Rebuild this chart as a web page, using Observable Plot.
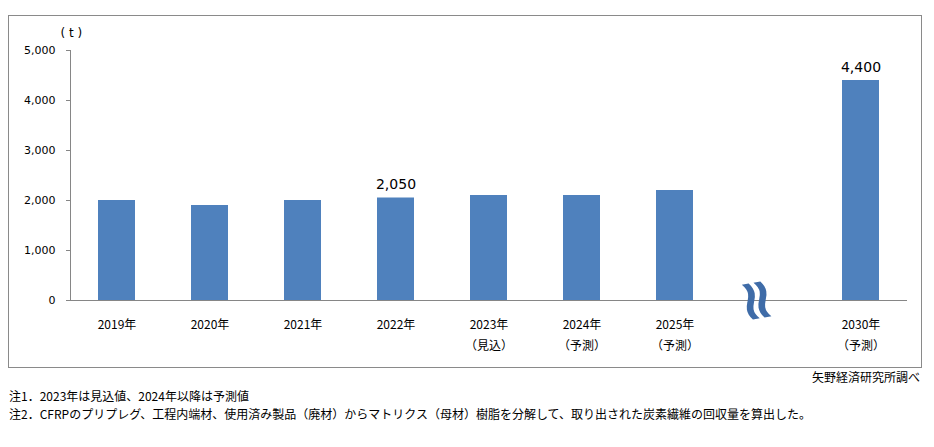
<!DOCTYPE html>
<html><head><meta charset="utf-8">
<script src="https://cdn.jsdelivr.net/npm/d3@7"></script>
<script src="https://cdn.jsdelivr.net/npm/@observablehq/plot@0.6"></script>
<style>
body{margin:0;background:#fff;width:934px;height:447px;position:relative;overflow:hidden;font-family:"Noto Sans CJK JP",sans-serif;}
#frame{position:absolute;left:8px;top:15px;width:912px;height:351px;border:1px solid #8a8a8a;}
#chart{position:absolute;left:0;top:0;}
.note{position:absolute;font-size:12px;color:#000;white-space:nowrap;line-height:1;}
</style></head><body>
<div id="frame"></div>
<div id="chart"></div>
<div class="note" style="right:14px;top:371px;">矢野経済研究所調べ</div>
<div class="note" style="left:9px;top:390px;">注1．2023年は見込値、2024年以降は予測値</div>
<div class="note" style="left:9px;top:408px;">注2．CFRPのプリプレグ、工程内端材、使用済み製品（廃材）からマトリクス（母材）樹脂を分解して、取り出された炭素繊維の回収量を算出した。</div>
<script>
const years = ["2019年","2020年","2021年","2022年","2023年","2024年","2025年","2030年"];
const subLabels = ["","","","","（見込）","（予測）","（予測）","（予測）"];
const values = [2000,1900,2000,2050,2100,2100,2200,4400];
const showLabel = [false,false,false,true,false,false,false,true];
const yTicks = [0,1000,2000,3000,4000,5000];
const gapKey = "gap";
const unitLabel = "( t )";

const domain = [...years.slice(0,7), gapKey, years[7]];
const data = years.map((y,i)=>({year:y, value:values[i], sub:subLabels[i], show:showLabel[i]}));
const subOf = Object.fromEntries(data.map(d=>[d.year,d.sub]));

const chart = Plot.plot({
  width: 934, height: 372,
  marginLeft: 70, marginRight: 27, marginTop: 50, marginBottom: 72,
  style: {fontFamily: "DejaVu Sans, sans-serif", background: "transparent", color: "#000"},
  x: {domain, paddingInner: 0.6, paddingOuter: 0.3, label: null},
  y: {domain: [0,5000], label: null},
  marks: [
    Plot.barY(data, {x:"year", y:"value", fill:"#4F81BD"}),
    Plot.frame({anchor:"left", stroke:"#868686"}),
    Plot.ruleY([0], {stroke:"#868686"}),
    Plot.axisY({ticks: yTicks, tickFormat: d3.format(","), tickSize: 4, tickPadding: 11, stroke:"#868686", fontSize: 11, fill:"#000"}),
    Plot.axisX({tickSize: 0, tickPadding: 13, fontSize: 12, lineHeight: 1.8, fontFamily: "Noto Sans CJK JP, sans-serif",
      tickFormat: d => d === gapKey ? "" : (subOf[d] ? d + "\n" + subOf[d] : d)}),
    Plot.text(data.filter(d=>d.show), {x:"year", y:"value", text: d=>d3.format(",")(d.value), lineAnchor:"bottom", dy:-9, fontSize:14, fill:"#000"}),
    Plot.text([gapKey], {x: d=>d, y: ()=>0, text: ()=>"≈", rotate: 80, fontSize: 58, fontWeight:"bold", fill:"#3F6CA8", dx:-11, dy:0, lineAnchor:"middle"}),
    Plot.text([unitLabel], {frameAnchor:"top-left", dx:-10, dy:-17, lineAnchor:"middle", fontSize:12, fill:"#000"})
  ]
});
document.getElementById("chart").appendChild(chart);
</script>
</body></html>
